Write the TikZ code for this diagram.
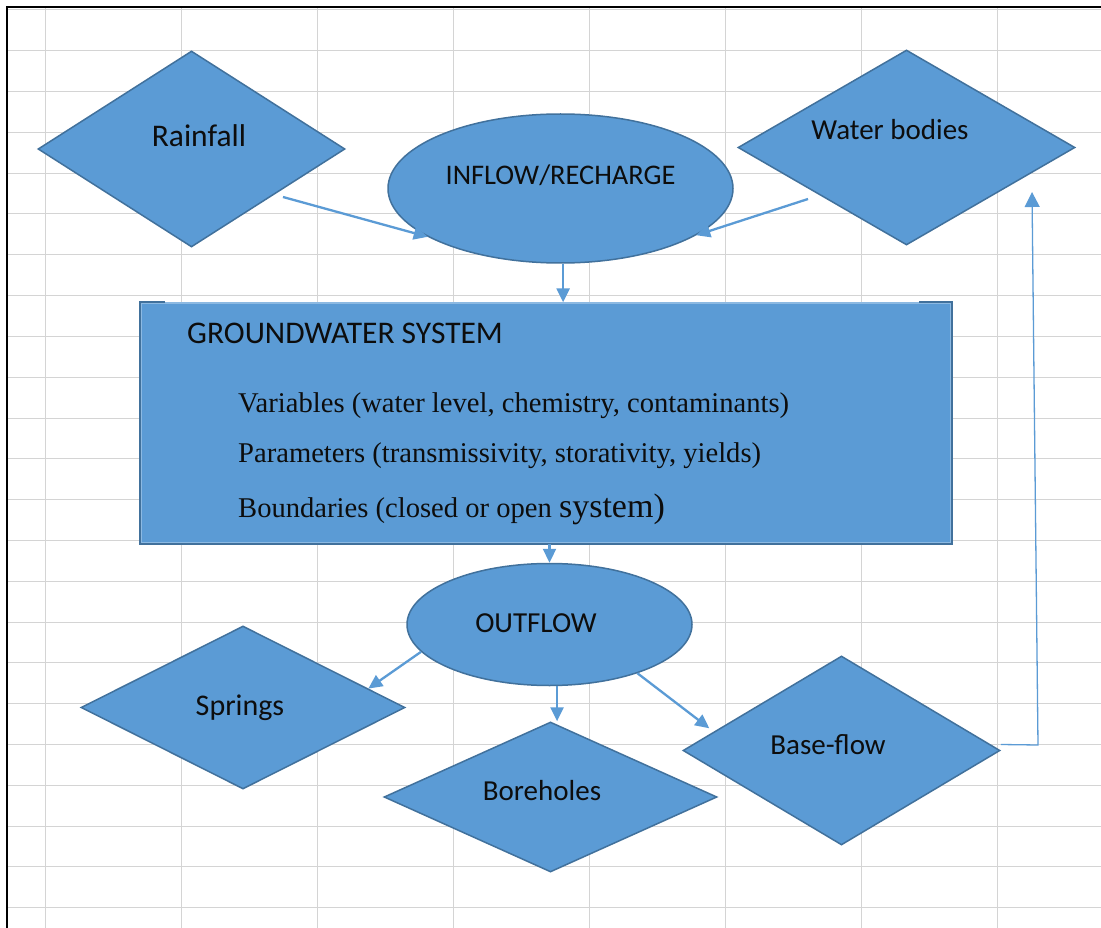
\documentclass[tikz,border=0pt]{standalone}
\usepackage{fontspec}
\setmainfont{Liberation Serif}
\newfontfamily\calib{Carlito}
\usetikzlibrary{shapes.geometric,arrows.meta,calc}
\definecolor{fillblue}{HTML}{5B9BD5}
\definecolor{edgeblue}{HTML}{41719C}
\definecolor{gridgray}{HTML}{D4D4D4}
\definecolor{inkblack}{HTML}{0D0D0D}
\begin{document}
\begin{tikzpicture}[x=1pt,y=-1pt,
  shapefill/.style={fill=fillblue, draw=edgeblue, line width=1.5pt, inner sep=0pt},
  diamondbox/.style={shapefill, diamond},
  ovalbox/.style={shapefill, ellipse},
  sanslabel/.style={font=\calib\fontsize{29}{34}\selectfont, text=inkblack, inner sep=0pt, anchor=base},
  biglabel/.style={sanslabel, font=\calib\fontsize{31.5}{36}\selectfont},
  seriflabel/.style={font=\fontsize{28.6}{33}\selectfont, text=inkblack, inner sep=0pt, anchor=base west},
  gridline/.style={draw=gridgray, line width=1pt},
  flow/.style={draw=fillblue, line width=2.3pt, -{Triangle[length=14pt,width=13pt]}},
  feedback/.style={draw=fillblue, line width=1.3pt, -{Triangle[length=15pt,width=15pt]}}
]
\useasboundingbox (0,0) rectangle (1101,928);
\fill[white] (0,0) rectangle (1101,928);
% grid
\foreach \i in {0,...,7} \draw[gridline] ({45+136.1*\i},8) -- ({45+136.1*\i},928);
\foreach \j in {0,...,22} \draw[gridline] (8,{10+40.8*\j}) -- (1101,{10+40.8*\j});
% frame
\draw[line width=2pt,black] (7,928) -- (7,7) -- (1101,7);

% shapes
\node[diamondbox, minimum width=307pt, minimum height=196pt] (rain) at (191.5,149) {};
\node[diamondbox, minimum width=337pt, minimum height=195pt] (water) at (906.5,147.5) {};
\node[ovalbox, minimum width=345pt, minimum height=149pt] (inflow) at (560.5,188.5) {};
\node[fill=fillblue, draw=fillblue!70!white, line width=1.3pt, inner sep=0pt,
      minimum width=810pt, minimum height=240pt] (gw) at (546,423) {};
\draw[draw=edgeblue, line width=2pt] ([xshift=25pt]gw.north west) -- (gw.north west) -- (gw.south west)
      -- (gw.south east) -- (gw.north east) -- ([xshift=-33pt]gw.north east);
\node[ovalbox, minimum width=285pt, minimum height=122pt] (outflow) at (549.5,624.5) {};
\node[diamondbox, minimum width=324pt, minimum height=163pt] (springs) at (243,707.5) {};
\node[diamondbox, minimum width=333pt, minimum height=150pt] (bore) at (550.5,797) {};
\node[diamondbox, minimum width=317pt, minimum height=189pt] (base) at (841.5,750.5) {};

% labels
\node[biglabel] (raint) at (199,147) {Rainfall};
\node[sanslabel] (watert) at (890,140) {Water bodies};
\node[sanslabel, font=\calib\fontsize{28.4}{34}\selectfont] (inflowt) at (560.5,185) {INFLOW/RECHARGE};
\node[biglabel, anchor=base west] (gwt) at (187,343) {GROUNDWATER SYSTEM};
\node[seriflabel] (varst) at (238,412) {Variables (water level, chemistry, contaminants)};
\node[seriflabel] (parst) at (238,462) {Parameters (transmissivity, storativity, yields)};
\node[seriflabel] (bndt) at (238,517) {Boundaries (closed or open {\fontsize{34}{38}\selectfont system)}};
\node[sanslabel] (outflowt) at (536,632) {OUTFLOW};
\node[sanslabel, font=\calib\fontsize{30}{34}\selectfont] (springst) at (240,715) {Springs};
\node[sanslabel] (boret) at (542,800) {Boreholes};
\node[sanslabel] (baset) at (828,754) {Base-flow};

% connectors
\coordinate (rainout) at (283,197);
\coordinate (waterout) at (808,199);
\draw[flow] (rainout) -- (inflow.-160);
\draw[flow] (waterout) -- (inflow.-19);
\draw[flow] (inflow.-88) -- (inflow.-88 |- gw.north);
\draw[flow] (outflow.north |- gw.south) -- (outflow.north);
\draw[flow] (outflow.192) -- ($(springs.north)!0.77!(springs.east)$);
\draw[flow] (outflow.-83) -- (outflow.-83 |- bore.north);
\draw[flow] (outflow.-29) -- ($(base.west)!0.17!(base.north)+(0,-6)$);
\coordinate (fbcorner) at (1038,745);
\coordinate (fbtip) at (1032,192);
\draw[feedback] ([yshift=6pt]base.east) -- (fbcorner) -- (fbtip);
\end{tikzpicture}
\end{document}
